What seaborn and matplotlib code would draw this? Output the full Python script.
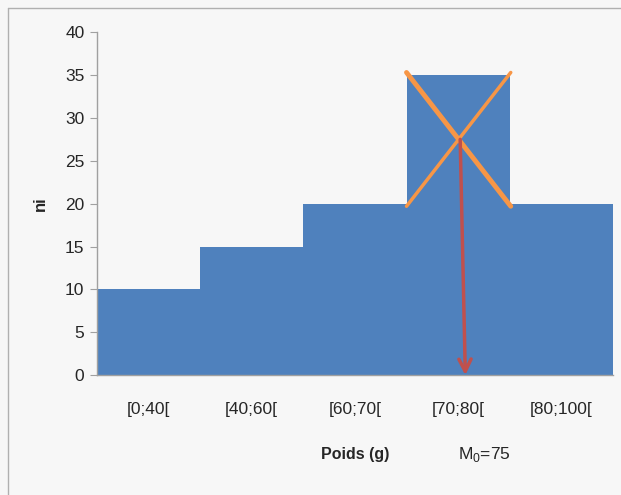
import pandas as pd
import seaborn as sns
import matplotlib.pyplot as plt
from matplotlib.lines import Line2D

# Data
classes = ['[0;40[', '[40;60[', '[60;70[', '[70;80[', '[80;100[']
ni = [10, 15, 20, 35, 20]
mode_label = 'M$_0$=75'

df = pd.DataFrame({'classe': classes, 'ni': ni})

sns.set_style("white")
plt.rcParams['font.family'] = ['Liberation Sans', 'DejaVu Sans']
plt.rcParams['mathtext.fontset'] = 'custom'
plt.rcParams['mathtext.rm'] = 'Liberation Sans'

bg = '#f7f7f7'
fig = plt.figure(figsize=(6.21, 4.95), dpi=100, facecolor=bg)
ax = fig.add_axes([0.156, 0.242, 0.831, 0.693])
ax.set_facecolor(bg)

sns.barplot(data=df, x='classe', y='ni', color='#4f81bd', saturation=1,
            width=1.0, ax=ax, edgecolor='none')

ax.set_ylim(0, 40)
ax.set_xlim(-0.5, 4.5)
ax.set_yticks(range(0, 41, 5))

for s in ['top', 'right']:
    ax.spines[s].set_visible(False)
for s in ['left', 'bottom']:
    ax.spines[s].set_color('#a0a0a0')
    ax.spines[s].set_linewidth(1)

ax.tick_params(axis='y', length=5, color='#a0a0a0', labelsize=12.5, pad=4, direction='out', left=True)
ax.tick_params(axis='x', length=0, labelsize=12.5, pad=19)

ax.set_xlabel('Poids (g)', fontsize=11.5, fontweight='bold')
ax.xaxis.set_label_coords(0.5, -0.21)
ax.set_ylabel('ni', fontsize=12, fontweight='bold', labelpad=12)

# Mode construction: diagonals in the modal bar
i = 3
x0, x1 = i - 0.5, i + 0.5
orange = '#f79646'
ax.plot([x0, x1 + 0.01], [ni[i] + 0.3, ni[i + 1] - 0.3], color=orange, lw=3.5, solid_capstyle='round')
ax.plot([x0, x1 + 0.01], [ni[i - 1] - 0.3, ni[i] + 0.3], color=orange, lw=2.5, solid_capstyle='round')

# intersection point of the two diagonals
a1 = ni[i] - ni[i - 1]
a2 = ni[i] - ni[i + 1]
t = a1 / (a1 + a2)
xi = x0 + t + 0.02
yi = ni[i] - a1 * t

ax.annotate('', xy=(xi + 0.05, 0), xytext=(xi, yi),
            arrowprops=dict(arrowstyle='->', color='#c0504d', lw=2.5,
                            mutation_scale=22, shrinkA=0, shrinkB=0))

ax.text(i + 0.25, -0.23, mode_label, transform=ax.get_xaxis_transform(),
        ha='center', va='center', fontsize=12.5)

# frame lines of the chart area
fig.add_artist(Line2D([8 / 621, 8 / 621], [0, 1 - 8 / 495], color='#b0b0b0', lw=1))
fig.add_artist(Line2D([8 / 621, 1], [1 - 8 / 495, 1 - 8 / 495], color='#b0b0b0', lw=1))

plt.savefig('out.png', dpi=100, facecolor=bg)
plt.close()
